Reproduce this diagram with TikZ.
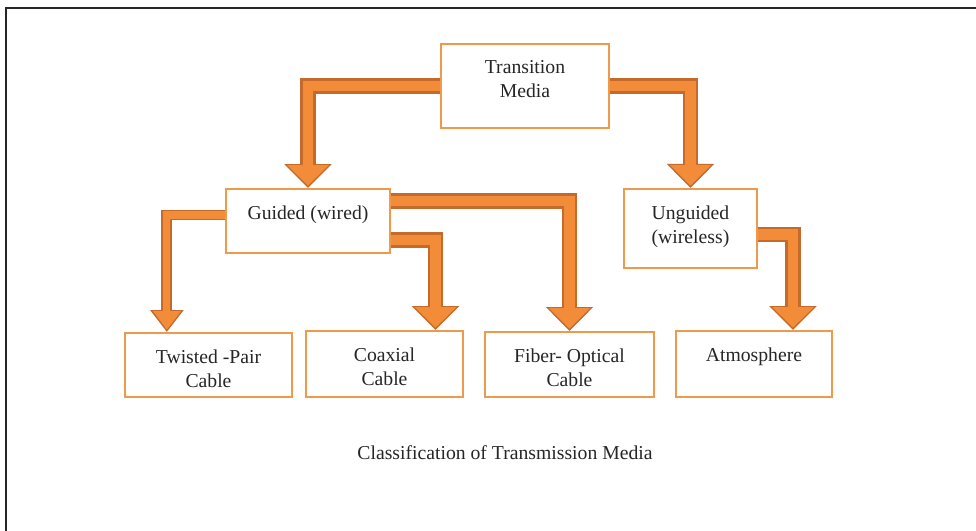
\documentclass[tikz,border=0pt]{standalone}
\usepackage{fontspec}
\setmainfont{Liberation Serif}
\usetikzlibrary{arrows.meta,positioning}
\definecolor{boxorange}{HTML}{EE9A4D}
\definecolor{pipefill}{HTML}{F28C38}
\definecolor{pipeedge}{HTML}{C46A2C}
\tikzset{
  mediabox/.style={draw=boxorange, line width=1.4pt, fill=white, inner sep=0pt},
  boxtext/.style={inner sep=0pt, align=center, font=\fontsize{14}{17.4}\selectfont, text=black!85},
  pipe outer/.style={draw=pipeedge, line width=10.7pt, line join=miter, -{Triangle[width=32.7pt,length=17pt]}},
  pipe inner/.style={draw=pipefill, line width=7.8pt, line join=miter, shorten >=1.6pt, -{Triangle[width=28.4pt,length=14.6pt]}},
  thin outer/.style={draw=pipeedge, line width=7.8pt, line join=miter, -{Triangle[width=22.8pt,length=15.6pt]}},
  thin inner/.style={draw=pipefill, line width=5pt, line join=miter, shorten >=1.6pt, -{Triangle[width=18.8pt,length=13.2pt]}}
}
\begin{document}
\begin{tikzpicture}[x=0.025cm,y=-0.025cm]
    \useasboundingbox (0,0) rectangle (976,531);
    \draw[line width=1.4pt, black!85] (6,531) -- (6,8) -- (976,8);
    % boxes
    \node[mediabox, minimum width=4.2cm, minimum height=2.1cm] (media) at (525,86) {};
    \node[mediabox, minimum width=4.1cm, minimum height=1.6cm] (guided) at (308,221) {};
    \node[mediabox, minimum width=3.33cm, minimum height=1.98cm] (unguided) at (690.5,228.5) {};
    \node[mediabox, minimum width=4.18cm, minimum height=1.6cm] (twisted) at (208.5,365) {};
    \node[mediabox, minimum width=3.93cm, minimum height=1.65cm] (coax) at (384.5,364) {};
    \node[mediabox, minimum width=4.23cm, minimum height=1.63cm] (fiber) at (569.5,364.5) {};
    \node[mediabox, minimum width=3.9cm, minimum height=1.65cm] (atmos) at (754,364) {};
    % texts
    \node[boxtext, below=0.43cm of media.north] (media-t) {Transition\\Media};
    \node[boxtext, below=0.43cm of guided.north] (guided-t) {Guided (wired)};
    \node[boxtext, below=0.43cm of unguided.north] (unguided-t) {Unguided\\(wireless)};
    \node[boxtext, below=0.43cm of twisted.north] (twisted-t) {Twisted -Pair\\Cable};
    \node[boxtext, below=0.43cm of coax.north] (coax-t) {Coaxial\\Cable};
    \node[boxtext, below=0.43cm of fiber.north] (fiber-t) {Fiber- Optical\\Cable};
    \node[boxtext, below=0.43cm of atmos.north] (atmos-t) {Atmosphere};
    \node[boxtext] (caption) at (505,453) {Classification of Transmission Media};
    % pipe ends
    \coordinate (guided-hi) at ([yshift=0.5cm]guided.east);
    \coordinate (guided-lo) at ([yshift=-0.475cm]guided.east);
    \coordinate (guided-left) at ([yshift=0.15cm]guided.west);
    \coordinate (coax-in) at ([xshift=1.275cm]coax.north);
    \coordinate (twisted-in) at ([xshift=-1.04cm]twisted.north);
    \coordinate (unguided-lo) at ([yshift=-0.15cm]unguided.east);
    \coordinate (atmos-in) at ([xshift=0.975cm]atmos.north);
    \foreach \from/\to/\w in {media.west/guided.north/pipe, media.east/unguided.north/pipe,
        guided-hi/fiber.north/pipe, guided-lo/coax-in/pipe, guided-left/twisted-in/thin,
        unguided-lo/atmos-in/pipe}
    {
        \draw[\w\space outer] (\from) -| (\to);
        \draw[\w\space inner] (\from) -| (\to);
    }
\end{tikzpicture}
\end{document}
